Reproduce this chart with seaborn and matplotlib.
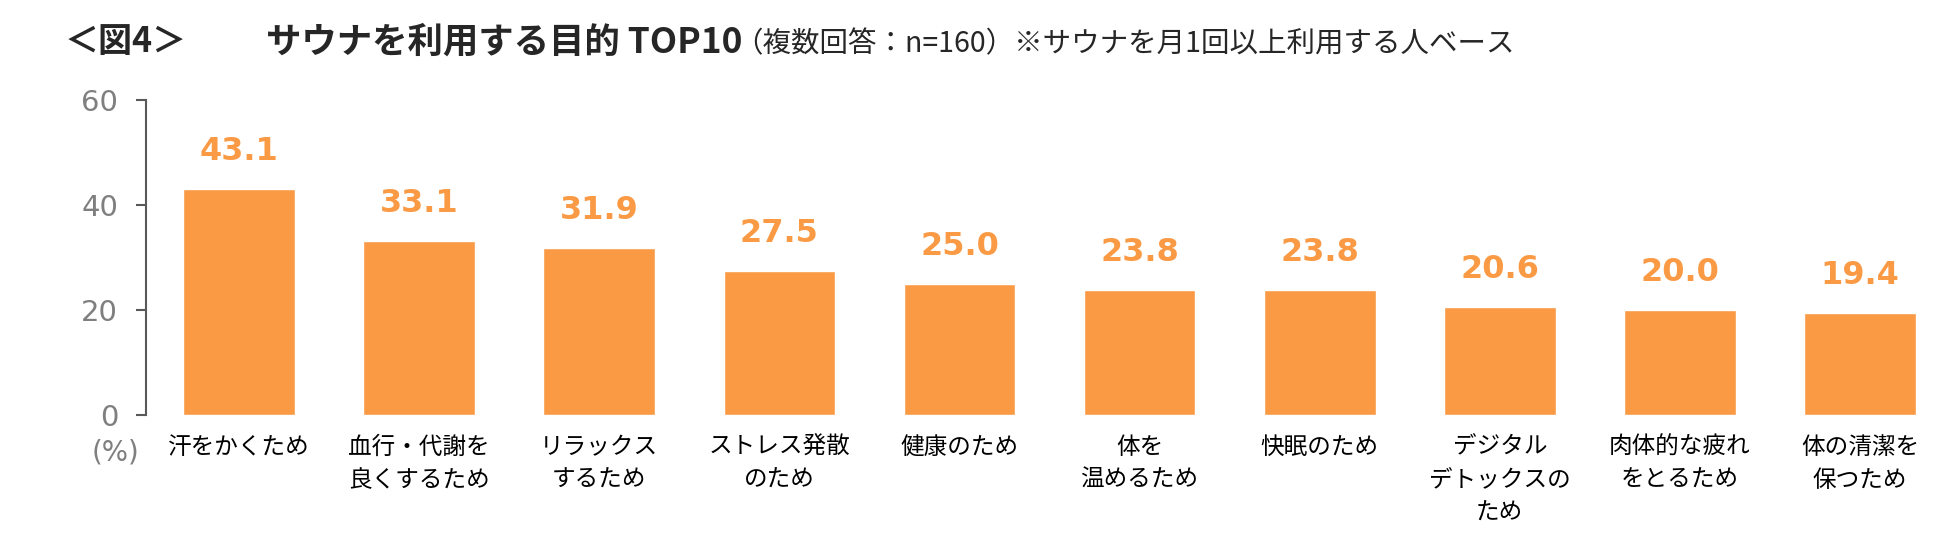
import matplotlib
matplotlib.use('Agg')
import matplotlib.pyplot as plt
import pandas as pd
import seaborn as sns

# Data
categories = ['汗をかくため', '血行・代謝を\n良くするため', 'リラックス\nするため', 'ストレス発散\nのため',
              '健康のため', '体を\n温めるため', '快眠のため', 'デジタル\nデトックスの\nため',
              '肉体的な疲れ\nをとるため', '体の清潔を\n保つため']
values = [43.1, 33.1, 31.9, 27.5, 25.0, 23.8, 23.8, 20.6, 20.0, 19.4]
y_ticks = [0, 20, 40, 60]

title_left = '＜図4＞'
title_main = 'サウナを利用する目的 TOP10'
subtitle = '（複数回答：n=160）※サウナを月1回以上利用する人ベース'

bar_color = '#FA9A45'
axis_color = '#595959'
tick_text = '#7F7F7F'

df = pd.DataFrame({'category': categories, 'value': values})

sns.set_theme(style='white')
plt.rcParams['font.family'] = ['Noto Sans CJK JP', 'DejaVu Sans']

fig = plt.figure(figsize=(19.5, 5.59), dpi=100)
ax = fig.add_axes([146 / 1950, 0.2576, 1 - 146 / 1950, 0.5635])

sns.barplot(data=df, x='category', y='value', order=categories, color=bar_color,
            width=0.62, saturation=1, ax=ax)

# value labels
for i, v in enumerate(values):
    ax.annotate(f'{v:.1f}', xy=(i, v), xytext=(0, 27), textcoords='offset points',
                ha='center', va='center', fontsize=23, fontweight='bold',
                color=bar_color, family='DejaVu Sans')

ax.set_ylim(0, 60)
ax.set_xlim(-0.517, 9.5)
ax.set_yticks(y_ticks)
ax.set_yticklabels([str(t) for t in y_ticks], family='DejaVu Sans', fontsize=21, color=tick_text)
ax.set_xticks(range(len(categories)))
ax.set_xticklabels(categories, fontsize=17, color='black', linespacing=1.55)
ax.set_xlabel('')
ax.set_ylabel('')

for s in ['top', 'right', 'bottom']:
    ax.spines[s].set_visible(False)
ax.spines['left'].set_color(axis_color)
ax.spines['left'].set_linewidth(1.5)
ax.tick_params(axis='y', left=True, length=7, width=1.5, color=axis_color, pad=13)
ax.tick_params(axis='x', length=0, pad=15)

fig.text(116 / 1950, 1 - 453 / 559, '(%)', ha='center', va='center', fontsize=20,
         color=tick_text, family='DejaVu Sans')

# titles
fig.text(65 / 1950, 0.925, title_left, ha='left', va='center', fontsize=24.5, fontweight='bold')
fig.text(266 / 1950, 0.925, title_main, ha='left', va='center', fontsize=25.5, fontweight='bold')
fig.text(734 / 1950, 0.92, subtitle, ha='left', va='center', fontsize=20.5)

fig.savefig('out.png', dpi=100)
